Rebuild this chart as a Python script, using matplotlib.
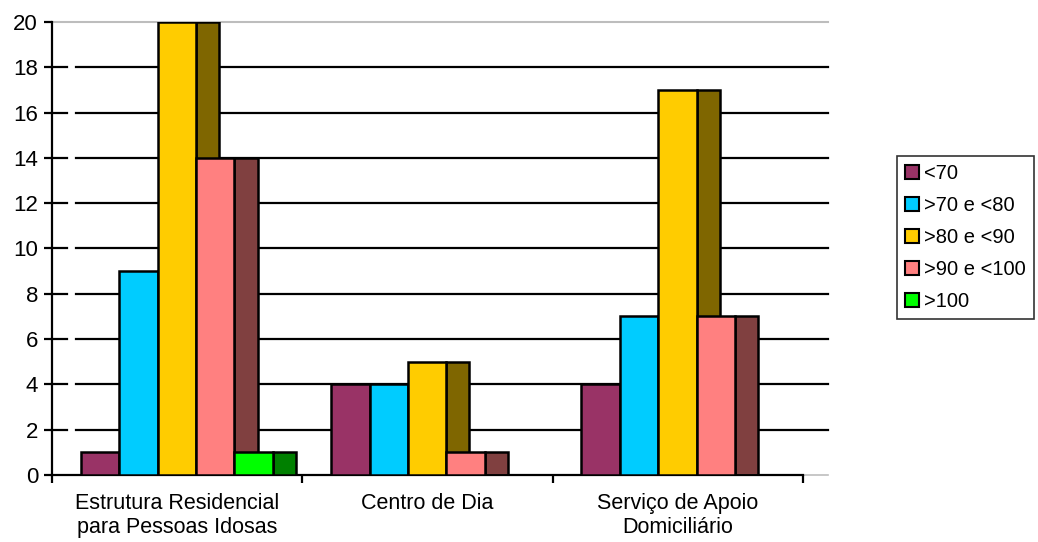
import numpy as np
import matplotlib.pyplot as plt
from matplotlib.patches import Patch

plt.rcParams['font.family'] = ['Liberation Sans', 'DejaVu Sans']

## Data
categories = ['Estrutura Residencial\npara Pessoas Idosas', 'Centro de Dia',
              'Serviço de Apoio\nDomiciliário']
series = ['<70', '>70 e <80', '>80 e <90', '>90 e <100', '>100']
v_lt70 = [1, 4, 4]
v_70_80 = [9, 4, 7]
v_80_90 = [20, 5, 17]
v_90_100 = [14, 1, 7]
v_gt100 = [1, 0, 0]
values = [v_lt70, v_70_80, v_80_90, v_90_100, v_gt100]

front_cols = ['#993366', '#00CCFF', '#FFCC00', '#FF8080', '#00FF00']
side_cols = ['#4C1933', '#00667F', '#7F6600', '#804040', '#008000']

## Layout
fig = plt.figure(figsize=(10.38, 5.42), dpi=100)
ax = fig.add_axes([52/1038, 1-475/542, (828-52)/1038, (475-22)/542])

start = 0.115   # first bar offset inside a group
bw = 0.1535     # bar width
depth = 0.092   # 3d side width
x = np.arange(len(categories))

for j, vals in enumerate(values):
    left = x + start + j*bw
    ax.bar(left + bw, vals, width=depth, align='edge', color=side_cols[j],
           edgecolor='black', linewidth=1.8, zorder=3+j)
    ax.bar(left, vals, width=bw, align='edge', color=front_cols[j],
           edgecolor='black', linewidth=1.8, zorder=3+j)

## gridlines (back wall) with the small gap near the axis
for yv in range(2, 20, 2):
    ax.plot([0, 0.06], [yv, yv], color='black', lw=1.6, zorder=1, clip_on=False)
    ax.plot([0.096, 3.1], [yv, yv], color='black', lw=1.6, zorder=1, clip_on=False)
ax.plot([0, 3.1], [20, 20], color='#bdbdbd', lw=1.5, zorder=1, clip_on=False)
ax.plot([3.0, 3.1], [0, 0], color='#bdbdbd', lw=1.2, zorder=1, clip_on=False)

ax.set_xlim(0, 3.1)
ax.set_ylim(0, 20)
ax.set_yticks(range(0, 21, 2))
ax.set_xticks(x + 0.5)
ax.set_xticklabels(categories)
ax.set_xticks([0, 1, 2, 3], minor=True)
ax.tick_params(axis='x', which='major', length=0, pad=13, labelsize=15.5)
ax.tick_params(axis='x', which='minor', length=6, width=1.6, direction='out')
ax.tick_params(axis='y', length=6, width=1.6, direction='out', pad=4, labelsize=16)

for s in ['top', 'right']:
    ax.spines[s].set_visible(False)
ax.spines['left'].set_linewidth(1.6)
ax.spines['bottom'].set_linewidth(1.6)
ax.spines['bottom'].set_bounds(0, 3.0)

handles = [Patch(facecolor=c, edgecolor='black', linewidth=1.5) for c in front_cols]
leg = fig.legend(handles, series, loc='upper left', bbox_to_anchor=(897/1038, 1-156/542),
                 fontsize=14.5, frameon=True, fancybox=False, handlelength=0.7,
                 handleheight=0.7, handletextpad=0.25, labelspacing=0.65,
                 borderpad=0.4, borderaxespad=0)
leg.get_frame().set_edgecolor('black')
leg.get_frame().set_linewidth(1.2)

fig.savefig('out.png', dpi=100)
